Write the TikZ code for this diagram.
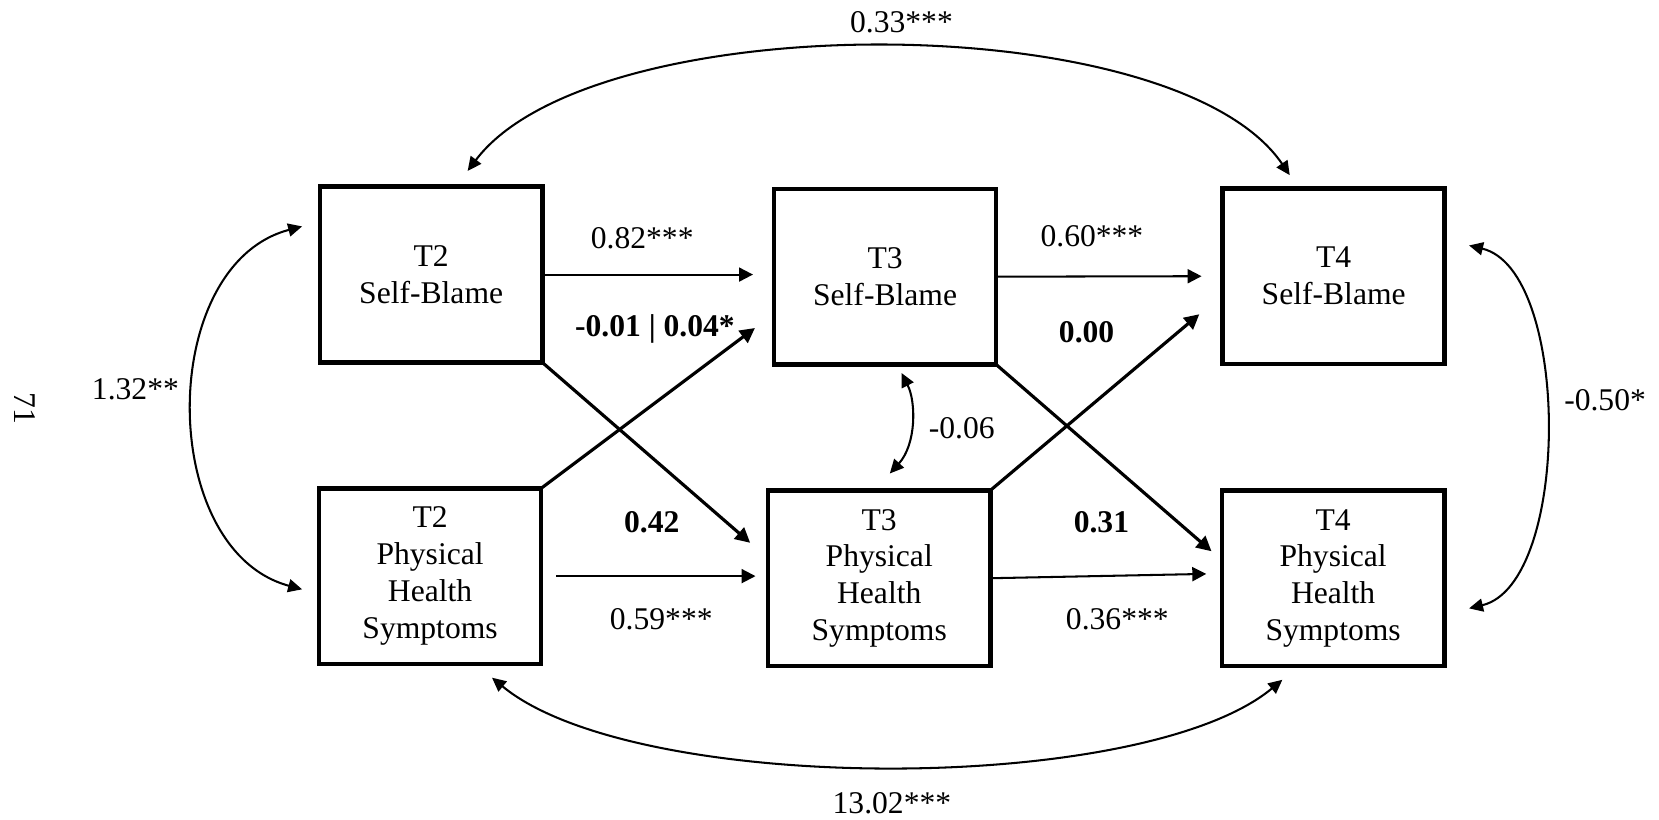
\documentclass[tikz,border=0pt]{standalone}
\usepackage{fontspec}
\setmainfont{Liberation Serif}
\usetikzlibrary{arrows.meta}
\begin{document}
\begin{tikzpicture}[x=0.02cm,y=-0.02cm,
  var/.style={draw, line width=2.5pt, minimum width=4.2cm, minimum height=3.32cm,
    inner sep=0pt, outer sep=0pt, align=center, font=\fontsize{17}{19.8}\selectfont},
  reg/.style={line width=1.1pt, -{Triangle[length=7.5pt,width=7.5pt]}},
  cross/.style={line width=1.7pt, -{Triangle[length=8pt,width=8pt]}},
  cov/.style={line width=1.1pt,
    {Triangle[length=7.5pt,width=7pt]}-{Triangle[length=7.5pt,width=7pt]}},
  lab/.style={anchor=base, inner sep=0pt, font=\fontsize{17}{19.8}\selectfont},
  blab/.style={lab, font=\fontsize{17}{19.8}\selectfont\bfseries}
]
\useasboundingbox (0,0) rectangle (1568,775);

% observed variables
\node[var] (SB2) at (407.5,259.5) {T2\\Self-Blame};
\node[var] (SB3) at (836.5,261.5) {T3\\Self-Blame};
\node[var] (SB4) at (1260.5,261)  {T4\\Self-Blame};
\node[var] (PH2) at (406.5,544.5) {T2\\Physical\\Health\\Symptoms};
\node[var] (PH3) at (831,546.5)   {T3\\Physical\\Health\\Symptoms};
\node[var] (PH4) at (1260,546.5)  {T4\\Physical\\Health\\Symptoms};

% autoregressive paths
\draw[reg, shorten >=11.3pt] (SB2.east) -- (SB2.east -| SB3.west);
\draw[reg, shorten >=11.3pt] (SB3.east) -- (SB4.west);
\draw[reg, shorten <=8pt, shorten >=6.8pt] (PH2.east) -- (PH2.east -| PH3.west);
\draw[reg, shorten >=8.5pt] (PH3.east) -- ([yshift=2.5pt]PH4.west);

% cross-lagged paths
\draw[cross] (SB2.south east) -- ([shift={(-17,-33.5)}]PH3.west);
\draw[cross] (PH2.north east) -- ([shift={(-18,48.5)}]SB3.west);
\draw[cross] (SB3.south east) -- ([shift={(-10,-25.5)}]PH4.west);
\draw[cross] (PH3.north east) -- ([shift={(-22,36)}]SB4.west);

% covariances
\draw[cov] ([shift={(34.5,-15)}]SB2.north) .. controls (560,5) and (1110,5) .. ([shift={(-41.5,-12.5)}]SB4.north);
\draw[cov] ([shift={(58.5,13)}]PH2.south) .. controls (600,752) and (1080,752) .. ([shift={(-48,13)}]PH4.south);
\draw[cov] ([shift={(-17,-45.5)}]SB2.west) .. controls (148,250) and (148,520) .. ([shift={(-16,12.5)}]PH2.west);
\draw[cov] ([shift={(23,-29)}]SB4.east) .. controls (1485,255) and (1485,552) .. ([shift={(23.5,28.5)}]PH4.east);
\draw[cov] ([shift={(15.5,8)}]SB3.south) .. controls (866,380) and (866,420) .. ([shift={(10,-16)}]PH3.north);

% estimates
\node[lab]  (c1)  at (852,31)   {0.33***};
\node[lab]  (a1)  at (607,235)  {0.82***};
\node[lab]  (a2)  at (1032,233) {0.60***};
\node[blab] (x1)  at (619,318)  {-0.01 | 0.04*};
\node[blab] (x3)  at (1027,324) {0.00};
\node[lab]  (c2)  at (128,378)  {1.32**};
\node[lab]  (c3)  at (909,414)  {-0.06};
\node[lab]  (c4)  at (1517,388) {-0.50*};
\node[blab] (x2)  at (616,503)  {0.42};
\node[blab] (x4)  at (1041,503) {0.31};
\node[lab]  (b1)  at (625,595)  {0.59***};
\node[lab]  (b2)  at (1056,595) {0.36***};
\node[lab]  (c5)  at (843,769)  {13.02***};

% page number
\node[lab, anchor=center, rotate=-90] (pg) at (24,386) {71};
\end{tikzpicture}
\end{document}
